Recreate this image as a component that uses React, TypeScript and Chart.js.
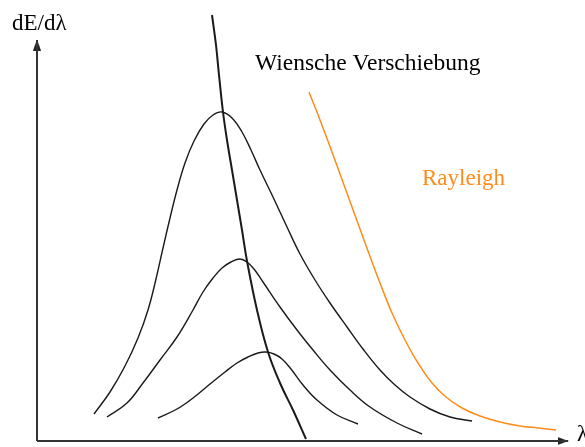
import React, { useEffect, useRef } from "react";
import { Chart, registerables } from "chart.js";

Chart.register(...registerables);

// Arbitrary units (origin at the axes' corner)
const planckHighX = [57, 73, 88, 101, 111, 119, 126, 133, 140, 148, 157, 167, 176, 185, 195, 205, 214, 223, 236, 250, 263, 278, 293, 310, 326, 343, 358, 373, 393, 413, 435];
const planckHighY = [27, 49, 75, 103, 131, 162, 193, 223, 251, 278, 300, 317, 326, 329, 323, 309, 291, 271, 244, 214, 187, 161, 138, 114, 92, 71, 56, 44, 32, 24, 20];

const planckMidX = [70, 90, 106, 123, 140, 156, 166, 176, 185, 194, 203, 210, 217, 226, 243, 260, 276, 293, 313, 333, 360, 385];
const planckMidY = [24, 38, 58, 81, 104, 131, 149, 163, 173, 179, 182, 179, 172, 159, 134, 111, 91, 71, 51, 34, 18, 7];

const planckLowX = [121, 140, 156, 173, 188, 200, 211, 221, 229, 237, 245, 254, 266, 280, 300, 321];
const planckLowY = [23, 32, 43, 57, 69, 78, 84, 88, 89, 87, 82, 72, 56, 41, 26, 17];

const wienX = [175, 179, 182, 186, 190, 195, 200, 205, 210, 220, 231, 243, 256, 269];
const wienY = [426, 396, 366, 329, 301, 271, 241, 211, 180, 131, 89, 58, 31, 2];

const rayleighX = [272, 283, 295, 307, 319, 331, 343, 355, 368, 381, 395, 409, 425, 443, 463, 483, 501, 519];
const rayleighY = [349, 321, 289, 256, 223, 190, 158, 128, 101, 78, 58, 44, 33, 25, 19, 15, 13, 11];

const axisXMax = 531;
const axisYMax = 401;

const labelTexts = ["dE/dλ", "Wiensche Verschiebung", "Rayleigh", "λ"];
const labelX = [-25, 218, 385, 540];
const labelY = [411, 371, 256, 0];
const labelSizes = [23, 23.5, 23, 23];
const labelColors = ["#000000", "#000000", "#ff8c1a", "#000000"];

const toPoints = (xs: number[], ys: number[]) => xs.map((x, i) => ({ x, y: ys[i] }));

function makeArrow(): HTMLCanvasElement {
  const c = document.createElement("canvas");
  c.width = 8;
  c.height = 11;
  const g = c.getContext("2d")!;
  g.fillStyle = "#222";
  g.beginPath();
  g.moveTo(4, 0);
  g.lineTo(8, 11);
  g.lineTo(0, 11);
  g.closePath();
  g.fill();
  return c;
}

const labelPlugin = {
  id: "labels",
  afterDatasetsDraw(chart: any) {
    const { ctx, scales } = chart;
    ctx.save();
    ctx.textBaseline = "alphabetic";
    ctx.textAlign = "left";
    labelTexts.forEach((t, i) => {
      ctx.font = `${labelSizes[i]}px "Liberation Serif"`;
      ctx.fillStyle = labelColors[i];
      ctx.fillText(t, scales.x.getPixelForValue(labelX[i]), scales.y.getPixelForValue(labelY[i]));
    });
    ctx.restore();
  },
};

export default function App() {
  const ref = useRef<HTMLCanvasElement | null>(null);
  useEffect(() => {
    if (!ref.current) return;
    const arrow = makeArrow();
    const line = (data: any, color: string, width: number) => ({
      data,
      borderColor: color,
      borderWidth: width,
      pointRadius: 0,
      fill: false,
      tension: 0.4,
      clip: false as any,
    });
    const chart = new Chart(ref.current, {
      type: "line",
      data: {
        datasets: [
          { ...line([{ x: 0, y: 0 }, { x: axisXMax, y: 0 }], "#333", 2), tension: 0 },
          { ...line([{ x: 0, y: 0 }, { x: 0, y: axisYMax }], "#333", 2), tension: 0 },
          line(toPoints(planckHighX, planckHighY), "#1a1a1a", 1.4),
          line(toPoints(planckMidX, planckMidY), "#1a1a1a", 1.4),
          line(toPoints(planckLowX, planckLowY), "#1a1a1a", 1.4),
          line(toPoints(wienX, wienY), "#1a1a1a", 2),
          line(toPoints(rayleighX, rayleighY), "#ff8c1a", 1.5),
          {
            data: [
              { x: axisXMax - 5, y: 0 },
              { x: 0, y: axisYMax - 5 },
            ],
            showLine: false,
            pointStyle: arrow as any,
            pointRotation: [90, 0] as any,
            pointRadius: 5,
            clip: false as any,
          },
        ],
      },
      options: {
        animation: false,
        responsive: false,
        layout: { autoPadding: false, padding: { left: 37, right: 0, top: 0, bottom: 6 } },
        plugins: { legend: { display: false }, tooltip: { enabled: false } },
        events: [],
        scales: {
          x: { type: "linear", min: 0, max: 548, display: false },
          y: { type: "linear", min: 0, max: 441, display: false },
        },
      },
      plugins: [labelPlugin],
    });
    return () => chart.destroy();
  }, []);
  return (
    <div style={{ position: "absolute", left: 0, top: 0, width: 585, height: 447, background: "#fff" }}>
      <canvas ref={ref} width={585} height={447} style={{ display: "block", width: 585, height: 447 }} />
    </div>
  );
}
